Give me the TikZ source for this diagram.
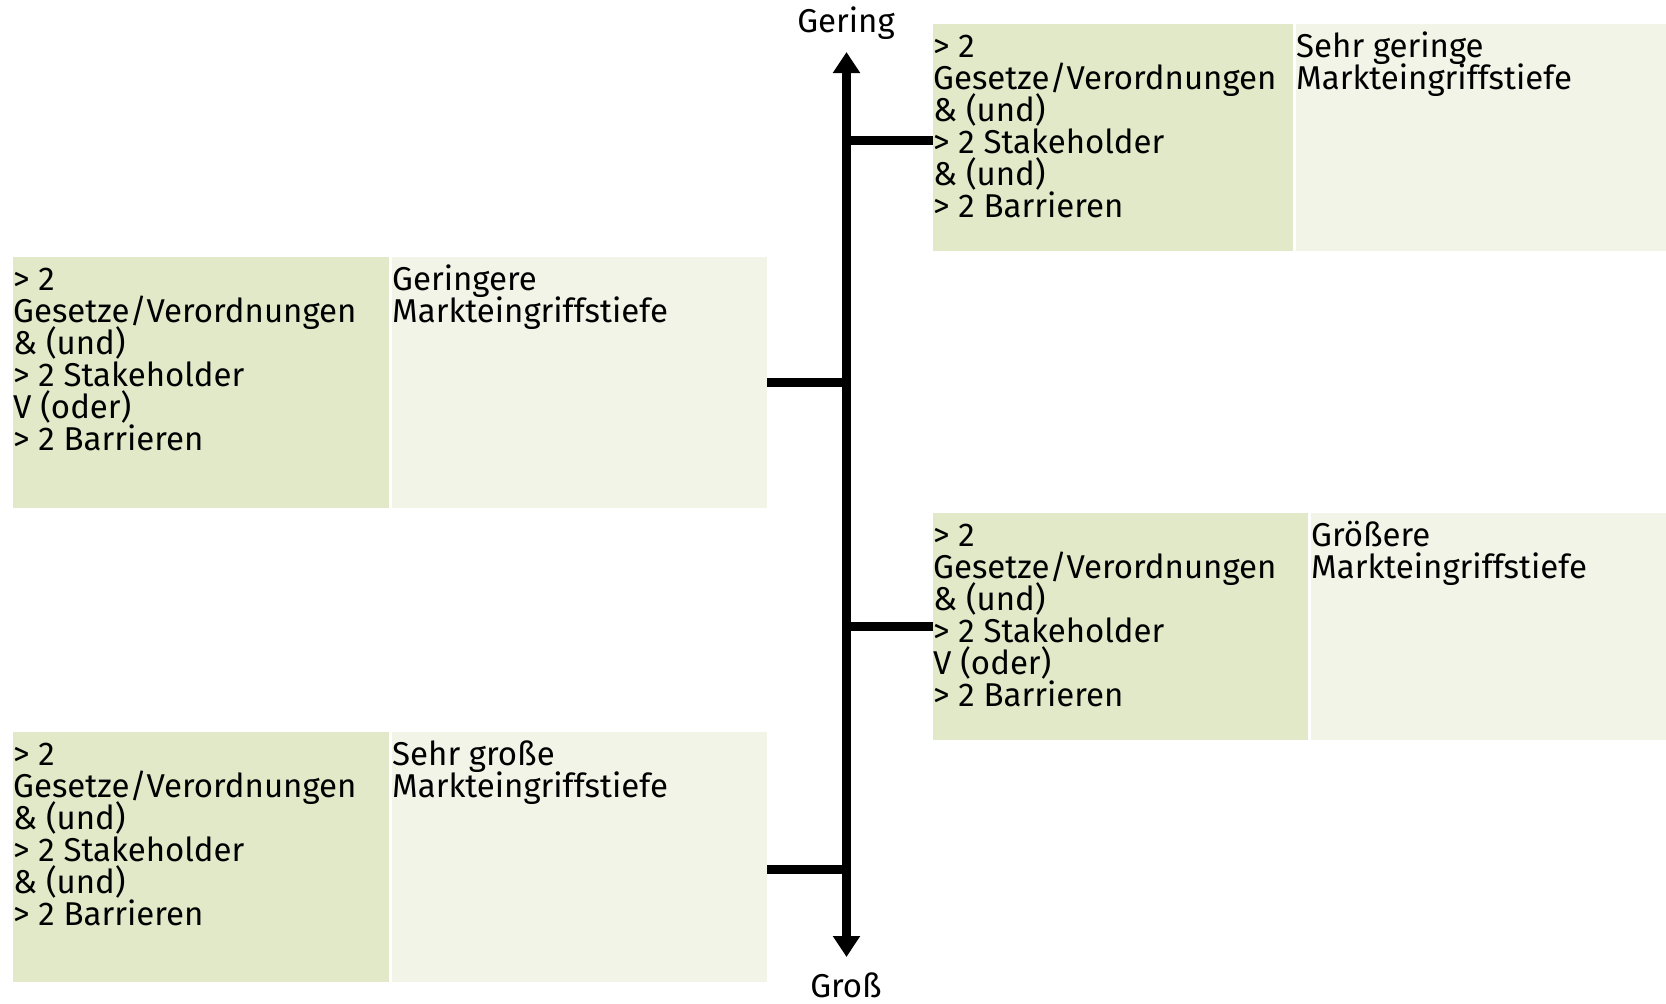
\documentclass[tikz,border=0pt]{standalone}
\usepackage{fontspec}
\setmainfont{Fira Sans}
\usetikzlibrary{arrows.meta}
\definecolor{boxdark}{RGB}{226,233,201}
\definecolor{boxlight}{RGB}{242,244,232}
\newcommand\boxfont{\fontsize{33}{32}\selectfont\setlength{\lineskiplimit}{-100pt}\relax}
\begin{document}
\begin{tikzpicture}[x=1pt,y=-1pt,
  darkbox/.style={fill=boxdark, draw=none, inner sep=0pt, outer sep=0pt, anchor=north west},
  lightbox/.style={fill=boxlight, draw=none, inner sep=0pt, outer sep=0pt, anchor=north west},
  txt/.style={inner sep=0pt, anchor=north west, align=left, font=\boxfont},
  conn/.style={line width=9pt},
  axisline/.style={line width=9pt, {Triangle[width=26pt,length=21pt]}-{Triangle[width=26pt,length=21pt]}},
  lbl/.style={inner sep=0pt, anchor=base, font=\boxfont}]
\useasboundingbox (0,0) rectangle (1666,1004);

% boxes
\node[darkbox, minimum width=360pt, minimum height=227pt] (trd) at (933,24) {};
\node[lightbox, minimum width=370pt, minimum height=227pt] (trl) at (1296,24) {};
\node[darkbox, minimum width=376pt, minimum height=251pt] (l1d) at (13,257) {};
\node[lightbox, minimum width=375pt, minimum height=251pt] (l1l) at (392,257) {};
\node[darkbox, minimum width=375pt, minimum height=227pt] (r2d) at (933,513) {};
\node[lightbox, minimum width=355pt, minimum height=227pt] (r2l) at (1311,513) {};
\node[darkbox, minimum width=376pt, minimum height=250pt] (l2d) at (13,732) {};
\node[lightbox, minimum width=375pt, minimum height=250pt] (l2l) at (392,732) {};

% texts
\node[txt] (trdt) at ([yshift=-5.5pt]trd.north west) {\rule{0pt}{28pt}> 2\\Gesetze/Verordnungen\\\& (und)\\> 2 Stakeholder\\\& (und)\\> 2 Barrieren};
\node[txt] (trlt) at ([yshift=-5.5pt]trl.north west) {\rule{0pt}{28pt}Sehr geringe\\Markteingriffstiefe};
\node[txt] (l1dt) at ([yshift=-5.5pt]l1d.north west) {\rule{0pt}{28pt}> 2\\Gesetze/Verordnungen\\\& (und)\\> 2 Stakeholder\\V (oder)\\> 2 Barrieren};
\node[txt] (l1lt) at ([yshift=-5.5pt]l1l.north west) {\rule{0pt}{28pt}Geringere\\Markteingriffstiefe};
\node[txt] (r2dt) at ([yshift=-5.5pt]r2d.north west) {\rule{0pt}{28pt}> 2\\Gesetze/Verordnungen\\\& (und)\\> 2 Stakeholder\\V (oder)\\> 2 Barrieren};
\node[txt] (r2lt) at ([yshift=-5.5pt]r2l.north west) {\rule{0pt}{28pt}Größere\\Markteingriffstiefe};
\node[txt] (l2dt) at ([yshift=-5.5pt]l2d.north west) {\rule{0pt}{28pt}> 2\\Gesetze/Verordnungen\\\& (und)\\> 2 Stakeholder\\\& (und)\\> 2 Barrieren};
\node[txt] (l2lt) at ([yshift=-5.5pt]l2l.north west) {\rule{0pt}{28pt}Sehr große\\Markteingriffstiefe};

% axis
\node[lbl] (gering) at (846,32.5) {Gering};
\node[lbl] (gross) at (846,997) {Groß};
\coordinate (axtop) at (846.5,52);
\coordinate (axbot) at (846.5,957);
\draw[axisline] (axtop) -- (axbot);

\coordinate (a1) at (846.5,140);
\coordinate (a2) at (846.5,382.5);
\coordinate (a3) at (846.5,626.5);
\coordinate (a4) at (846.5,869);
\draw[conn] (a1) -- (trd.west |- a1);
\draw[conn] (l1l.east |- a2) -- (a2);
\draw[conn] (a3) -- (r2d.west |- a3);
\draw[conn] (l2l.east |- a4) -- (a4);
\end{tikzpicture}
\end{document}
